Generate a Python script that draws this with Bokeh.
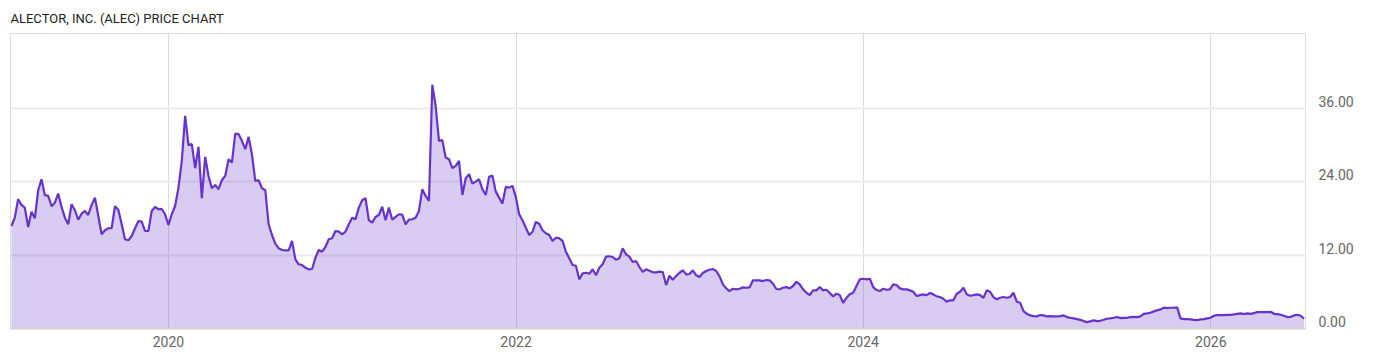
import pandas as pd
from bokeh.plotting import figure
from bokeh.models import (Range1d, LinearAxis, FixedTicker, NumeralTickFormatter,
                          DatetimeTickFormatter, ColumnDataSource, Grid)
from bokeh.embed import file_html
from bokeh.resources import INLINE

# ---------------- data (weekly closing prices) ----------------
title_text = "ALECTOR, INC. (ALEC) PRICE CHART"
first_date = "2019-02-05"
last_date = "2026-07-16"

prices_2019_20 = [
    16.75, 18.11, 21.12, 20.19, 19.75, 16.59, 19.09, 18.01, 22.59, 24.39,
    21.78, 21.66, 19.98, 20.56, 22.04, 19.86, 18.11, 17.03, 20.30, 19.32,
    17.78, 18.76, 19.21, 18.55, 20.19, 21.38, 18.39, 15.39, 16.05, 16.38,
    16.38, 19.98, 19.42, 17.03, 14.58, 14.41, 15.12, 16.38, 17.57, 17.46,
    15.93, 15.93, 19.21, 19.86, 19.48, 19.53, 18.67, 16.92, 18.67, 20.02,
    23.02, 27.39, 34.75, 29.96, 30.12, 26.19, 29.68, 21.28, 28.04, 24.93,
    22.92, 23.46, 22.76, 24.23, 24.93, 27.66, 27.11, 31.85, 31.75, 30.66,
    29.30, 31.31, 28.48, 24.11, 24.23, 22.92, 22.59,
]
prices_2020_22 = [
    17.03, 15.28, 13.86, 13.10, 12.83, 12.78, 12.78, 14.30, 11.30, 10.49,
    10.37, 9.93, 9.67, 9.72, 11.57, 12.83, 12.55, 13.32, 14.58, 14.74,
    15.93, 15.82, 15.39, 15.82, 17.03, 18.11, 17.85, 19.75, 20.96, 21.28,
    17.69, 17.29, 18.23, 18.55, 19.91, 17.69, 19.75, 17.78, 18.23, 18.67,
    18.60, 17.03, 17.78, 17.85, 18.11, 19.21, 22.76, 21.66, 20.84, 39.82,
    36.38, 30.66, 30.77, 27.93, 27.66, 26.19, 26.57, 27.39, 21.82, 24.56,
    25.21, 23.67, 24.00, 24.39, 22.76, 21.82, 24.77, 24.98, 22.36, 21.38,
    20.40, 23.13, 23.02, 23.30, 21.50, 18.67, 17.69,
]
prices_2022_23 = [
    16.47, 15.28, 15.82, 17.41, 17.13, 16.05, 15.56, 15.28, 14.30, 14.84,
    14.74, 14.30, 12.55, 11.47, 10.37, 10.26, 8.03, 9.01, 9.11, 8.95,
    9.67, 8.69, 9.93, 10.49, 11.73, 11.80, 11.68, 11.24, 11.47, 13.10,
    12.12, 11.73, 10.86, 11.03, 10.05, 9.23, 9.67, 9.44, 9.18, 9.18,
    9.28, 9.23, 7.10, 8.62, 7.97, 8.57, 9.11, 9.51, 8.85, 8.90,
    9.51, 8.69, 8.41, 9.06, 9.39, 9.60, 9.72, 9.39, 8.52, 7.21,
    6.56, 6.12, 6.49, 6.40, 6.49, 6.72, 6.66, 6.72, 7.87, 7.87,
    7.87, 7.75, 7.92, 7.87, 7.31, 6.45, 6.40,
]
prices_2023_24 = [
    6.66, 6.77, 6.56, 6.94, 7.64, 7.21, 6.40, 5.84, 5.46, 6.23,
    6.23, 6.77, 6.23, 6.33, 5.79, 5.25, 5.68, 5.46, 4.20, 5.02,
    5.58, 5.84, 6.94, 8.03, 8.13, 8.03, 8.13, 6.77, 6.28, 6.12,
    6.49, 6.33, 6.40, 7.21, 7.10, 6.56, 6.40, 6.40, 6.23, 6.00,
    5.30, 5.46, 5.58, 5.46, 5.79, 5.58, 5.25, 5.14, 4.86, 4.37,
    4.60, 4.60, 5.68, 6.00, 6.66, 5.58, 5.35, 5.46, 5.58, 5.46,
    5.02, 6.23, 6.00, 5.14, 4.76, 5.02, 5.14, 5.02, 5.14, 5.84,
    4.37, 4.20, 2.85, 2.40, 2.14, 2.03, 1.98, 2.19,
]
prices_2025_26 = [
    2.14, 1.98, 2.03, 1.98, 1.98, 2.03, 2.14, 1.87, 1.75, 1.65,
    1.54, 1.42, 1.21, 1.05, 1.16, 1.33, 1.21, 1.26, 1.42, 1.59,
    1.65, 1.75, 1.87, 1.70, 1.75, 1.75, 1.87, 1.91, 1.87, 1.98,
    2.40, 2.47, 2.57, 2.80, 2.96, 3.12, 3.40, 3.34, 3.39, 3.39,
    3.45, 1.65, 1.54, 1.54, 1.49, 1.42, 1.37, 1.49, 1.54, 1.65,
    1.75, 2.08, 2.19, 2.19, 2.19, 2.24, 2.24, 2.31, 2.40, 2.47,
    2.36, 2.47, 2.40, 2.52, 2.68, 2.68, 2.68, 2.68, 2.73, 2.40,
    2.36, 2.24, 2.08, 1.87, 1.91, 2.14, 2.24, 2.08, 1.59,
]

tick_years = [2020, 2022, 2024, 2026]
price_ticks = [0, 12, 24, 36]

# ---------------- build ----------------
prices = prices_2019_20 + prices_2020_22 + prices_2022_23 + prices_2023_24 + prices_2025_26
dates = pd.date_range(first_date, last_date, periods=len(prices))
src = ColumnDataSource(dict(date=dates, price=prices, zero=[0.0] * len(prices)))

view_start = pd.Timestamp("2019-02-03")
view_end = pd.Timestamp("2026-07-19")
Y_TOP = 48.2
LABEL_SHIFT = 1.15  # right-axis labels sit a little above their grid lines

FONT = "Roboto"
LINE = "#6633cc"

p = figure(width=1400, height=357, x_axis_type="datetime", y_axis_location=None,
           x_range=Range1d(view_start, view_end), y_range=Range1d(0, Y_TOP),
           output_backend="svg", toolbar_location=None,
           min_border_left=10, min_border_right=95, min_border_top=33, min_border_bottom=29)

p.background_fill_color = "white"
p.border_fill_color = "white"
p.outline_line_color = "#dddddd"
p.outline_line_width = 1

p.title.text = title_text
p.title.text_font = FONT
p.title.text_font_size = "13px"
p.title.text_font_style = "normal"
p.title.text_color = "#222222"
p.title.align = "left"
p.title.offset = 0
p.title.standoff = 16

tick_ms = [pd.Timestamp(f"{y}-01-01").value // 10**6 for y in tick_years]
xt = FixedTicker(ticks=tick_ms)
xa = p.xaxis[0]
xa.ticker = xt
xa.formatter = DatetimeTickFormatter(years="%Y", months="%Y", days="%Y", hours="%Y")
xa.axis_line_color = "#d4d4d4"
xa.axis_line_width = 2
xa.major_tick_line_color = None
xa.minor_tick_line_color = None
xa.major_label_standoff = 1
xa.major_label_text_font = FONT
xa.major_label_text_font_size = "14px"
xa.major_label_text_color = "#666666"

p.xgrid.ticker = xt
p.xgrid.grid_line_color = "#dcdcdc"
p.xgrid.grid_line_width = 1
p.ygrid.visible = False

p.add_layout(Grid(dimension=1, ticker=FixedTicker(ticks=price_ticks[1:]),
                  grid_line_color="#ebebeb", grid_line_width=2))

p.varea(x="date", y1="zero", y2="price", source=src, fill_color=LINE, fill_alpha=0.25)
p.line(x="date", y="price", source=src, line_color=LINE, line_width=2.2)

p.extra_y_ranges = {"labels": Range1d(-LABEL_SHIFT, Y_TOP - LABEL_SHIFT)}
ya = LinearAxis(y_range_name="labels", ticker=FixedTicker(ticks=price_ticks),
                formatter=NumeralTickFormatter(format="0.00"))
ya.axis_line_color = None
ya.major_tick_line_color = None
ya.minor_tick_line_color = None
ya.major_label_standoff = 7
ya.major_label_text_font = FONT
ya.major_label_text_font_size = "14px"
ya.major_label_text_color = "#666666"
p.add_layout(ya, "right")

open("out.html", "w").write(file_html(p, INLINE))
